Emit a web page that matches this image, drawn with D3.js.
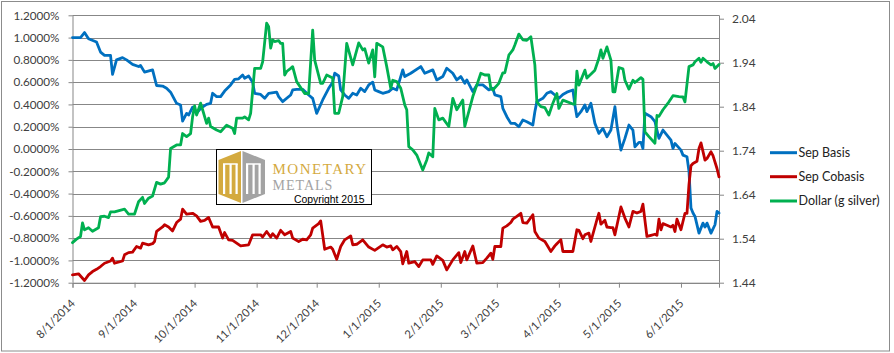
<!DOCTYPE html>
<html><head><meta charset="utf-8">
<script src="https://cdn.jsdelivr.net/npm/d3@7"></script>
<style>body{margin:0;background:#fff}svg{display:block}</style>
</head><body><svg id="c" width="894" height="353"></svg>
<script>
const xTickLabels = ["8/1/2014","9/1/2014","10/1/2014","11/1/2014","12/1/2014","1/1/2015","2/1/2015","3/1/2015","4/1/2015","5/1/2015","6/1/2015"];
const leftTicks = [-1.2,-1.0,-0.8,-0.6,-0.4,-0.2,0,0.2,0.4,0.6,0.8,1.0,1.2];
const leftTickLabels = ["-1.2000%","-1.0000%","-0.8000%","-0.6000%","-0.4000%","-0.2000%","0.0000%","0.2000%","0.4000%","0.6000%","0.8000%","1.0000%","1.2000%"];
const rightTicks = [1.44,1.54,1.64,1.74,1.84,1.94,2.04];
const seriesNames = ["Sep Basis","Sep Cobasis","Dollar (g silver)"];

const sepBasis = [["2014-08-01",1.00],["2014-08-05",1.00],["2014-08-07",1.045],["2014-08-09",0.99],["2014-08-13",0.96],["2014-08-15",0.87],["2014-08-17",0.84],["2014-08-20",0.84],["2014-08-21",0.67],["2014-08-23",0.80],["2014-08-26",0.82],["2014-08-28",0.80],["2014-08-31",0.76],["2014-09-03",0.74],["2014-09-04",0.75],["2014-09-06",0.69],["2014-09-10",0.71],["2014-09-12",0.57],["2014-09-15",0.565],["2014-09-17",0.545],["2014-09-19",0.51],["2014-09-22",0.41],["2014-09-24",0.395],["2014-09-25",0.25],["2014-09-27",0.32],["2014-09-28",0.305],["2014-09-30",0.375],["2014-10-02",0.32],["2014-10-04",0.365],["2014-10-07",0.40],["2014-10-09",0.41],["2014-10-10",0.50],["2014-10-12",0.47],["2014-10-14",0.47],["2014-10-16",0.52],["2014-10-19",0.575],["2014-10-21",0.625],["2014-10-23",0.63],["2014-10-25",0.665],["2014-10-26",0.635],["2014-10-28",0.655],["2014-10-30",0.60],["2014-10-31",0.50],["2014-11-03",0.49],["2014-11-05",0.455],["2014-11-07",0.50],["2014-11-11",0.51],["2014-11-12",0.47],["2014-11-14",0.425],["2014-11-18",0.485],["2014-11-19",0.53],["2014-11-21",0.535],["2014-11-24",0.535],["2014-11-27",0.485],["2014-11-29",0.455],["2014-12-01",0.32],["2014-12-04",0.44],["2014-12-07",0.545],["2014-12-09",0.60],["2014-12-10",0.68],["2014-12-12",0.655],["2014-12-13",0.53],["2014-12-15",0.485],["2014-12-17",0.455],["2014-12-19",0.50],["2014-12-21",0.485],["2014-12-23",0.545],["2014-12-25",0.515],["2014-12-27",0.575],["2014-12-29",0.60],["2014-12-30",0.53],["2015-01-01",0.515],["2015-01-03",0.50],["2015-01-06",0.515],["2015-01-08",0.545],["2015-01-10",0.53],["2015-01-13",0.71],["2015-01-14",0.65],["2015-01-17",0.68],["2015-01-22",0.74],["2015-01-24",0.68],["2015-01-28",0.71],["2015-01-30",0.62],["2015-02-02",0.65],["2015-02-04",0.725],["2015-02-07",0.68],["2015-02-09",0.62],["2015-02-11",0.65],["2015-02-13",0.59],["2015-02-14",0.62],["2015-02-17",0.515],["2015-02-19",0.575],["2015-02-22",0.575],["2015-02-25",0.53],["2015-02-27",0.545],["2015-02-28",0.485],["2015-03-03",0.47],["2015-03-04",0.365],["2015-03-06",0.29],["2015-03-08",0.23],["2015-03-10",0.23],["2015-03-12",0.20],["2015-03-14",0.26],["2015-03-16",0.245],["2015-03-19",0.215],["2015-03-20",0.335],["2015-03-21",0.425],["2015-03-24",0.455],["2015-03-26",0.50],["2015-03-28",0.515],["2015-03-30",0.485],["2015-04-01",0.455],["2015-04-03",0.49],["2015-04-05",0.51],["2015-04-08",0.53],["2015-04-09",0.395],["2015-04-10",0.29],["2015-04-12",0.335],["2015-04-14",0.395],["2015-04-15",0.335],["2015-04-17",0.41],["2015-04-19",0.23],["2015-04-21",0.14],["2015-04-23",0.185],["2015-04-25",0.11],["2015-04-27",0.17],["2015-04-29",0.38],["2015-04-30",0.215],["2015-05-02",-0.01],["2015-05-04",0.095],["2015-05-06",0.215],["2015-05-08",0.17],["2015-05-09",0.02],["2015-05-11",0.06],["2015-05-12",0.06],["2015-05-13",0.005],["2015-05-14",0.32],["2015-05-17",0.29],["2015-05-19",0.245],["2015-05-21",0.095],["2015-05-23",0.17],["2015-05-25",0.125],["2015-05-27",0.08],["2015-05-28",0.005],["2015-05-29",0.05],["2015-06-01",-0.01],["2015-06-02",-0.055],["2015-06-04",-0.07],["2015-06-05",-0.20],["2015-06-06",-0.53],["2015-06-07",-0.575],["2015-06-08",-0.605],["2015-06-10",-0.755],["2015-06-12",-0.665],["2015-06-13",-0.70],["2015-06-14",-0.665],["2015-06-16",-0.755],["2015-06-18",-0.68],["2015-06-19",-0.56],["2015-06-20",-0.575]];

const sepCobasis = [["2014-08-01",-1.13],["2014-08-04",-1.12],["2014-08-07",-1.18],["2014-08-09",-1.13],["2014-08-11",-1.10],["2014-08-13",-1.08],["2014-08-15",-1.055],["2014-08-17",-1.025],["2014-08-20",-1.005],["2014-08-21",-0.98],["2014-08-22",-1.025],["2014-08-26",-1.005],["2014-08-27",-0.95],["2014-08-29",-0.93],["2014-08-31",-0.925],["2014-09-02",-0.875],["2014-09-04",-0.89],["2014-09-05",-0.845],["2014-09-08",-0.86],["2014-09-10",-0.85],["2014-09-11",-0.83],["2014-09-12",-0.74],["2014-09-15",-0.70],["2014-09-16",-0.68],["2014-09-18",-0.70],["2014-09-20",-0.735],["2014-09-22",-0.66],["2014-09-24",-0.63],["2014-09-25",-0.54],["2014-09-27",-0.585],["2014-09-30",-0.577],["2014-10-02",-0.60],["2014-10-04",-0.65],["2014-10-06",-0.64],["2014-10-08",-0.615],["2014-10-10",-0.70],["2014-10-13",-0.70],["2014-10-15",-0.80],["2014-10-16",-0.75],["2014-10-18",-0.815],["2014-10-20",-0.82],["2014-10-24",-0.87],["2014-10-28",-0.86],["2014-10-30",-0.77],["2014-11-03",-0.77],["2014-11-04",-0.79],["2014-11-06",-0.74],["2014-11-08",-0.79],["2014-11-09",-0.76],["2014-11-11",-0.80],["2014-11-13",-0.73],["2014-11-15",-0.77],["2014-11-18",-0.74],["2014-11-19",-0.80],["2014-11-22",-0.83],["2014-11-24",-0.81],["2014-11-26",-0.815],["2014-11-28",-0.77],["2014-11-29",-0.71],["2014-12-02",-0.67],["2014-12-03",-0.645],["2014-12-05",-0.90],["2014-12-08",-0.88],["2014-12-09",-0.90],["2014-12-11",-0.99],["2014-12-13",-0.875],["2014-12-15",-0.815],["2014-12-18",-0.78],["2014-12-19",-0.86],["2014-12-21",-0.855],["2014-12-24",-0.815],["2014-12-27",-0.88],["2014-12-30",-0.91],["2015-01-03",-0.86],["2015-01-05",-0.88],["2015-01-07",-0.87],["2015-01-08",-0.905],["2015-01-10",-0.875],["2015-01-12",-0.92],["2015-01-13",-1.03],["2015-01-15",-0.92],["2015-01-16",-1.025],["2015-01-19",-1.01],["2015-01-21",-1.055],["2015-01-23",-0.995],["2015-01-25",-0.995],["2015-01-27",-0.995],["2015-01-28",-1.035],["2015-01-30",-0.96],["2015-02-02",-1.00],["2015-02-04",-1.085],["2015-02-07",-0.995],["2015-02-10",-0.93],["2015-02-11",-1.02],["2015-02-13",-0.92],["2015-02-14",-0.995],["2015-02-17",-0.87],["2015-02-19",-1.025],["2015-02-22",-1.02],["2015-02-24",-0.98],["2015-02-26",-0.935],["2015-02-27",-0.99],["2015-02-28",-0.875],["2015-03-03",-0.875],["2015-03-04",-0.71],["2015-03-06",-0.69],["2015-03-08",-0.66],["2015-03-09",-0.63],["2015-03-11",-0.605],["2015-03-13",-0.577],["2015-03-14",-0.66],["2015-03-16",-0.665],["2015-03-19",-0.59],["2015-03-20",-0.74],["2015-03-22",-0.80],["2015-03-25",-0.83],["2015-03-26",-0.86],["2015-03-28",-0.92],["2015-03-30",-0.87],["2015-03-31",-0.85],["2015-04-02",-0.815],["2015-04-03",-0.92],["2015-04-08",-0.92],["2015-04-10",-0.725],["2015-04-11",-0.73],["2015-04-13",-0.805],["2015-04-14",-0.77],["2015-04-16",-0.755],["2015-04-17",-0.83],["2015-04-20",-0.635],["2015-04-21",-0.577],["2015-04-22",-0.675],["2015-04-24",-0.64],["2015-04-25",-0.70],["2015-04-27",-0.705],["2015-04-28",-0.705],["2015-04-29",-0.77],["2015-05-02",-0.52],["2015-05-04",-0.62],["2015-05-06",-0.70],["2015-05-08",-0.56],["2015-05-10",-0.575],["2015-05-12",-0.56],["2015-05-13",-0.495],["2015-05-15",-0.785],["2015-05-17",-0.775],["2015-05-19",-0.765],["2015-05-20",-0.775],["2015-05-21",-0.63],["2015-05-22",-0.725],["2015-05-23",-0.67],["2015-05-25",-0.685],["2015-05-27",-0.70],["2015-05-28",-0.685],["2015-05-29",-0.74],["2015-05-30",-0.63],["2015-06-01",-0.725],["2015-06-03",-0.577],["2015-06-04",-0.577],["2015-06-05",-0.32],["2015-06-06",-0.15],["2015-06-07",-0.13],["2015-06-09",-0.11],["2015-06-10",0.005],["2015-06-11",0.055],["2015-06-13",-0.10],["2015-06-14",-0.085],["2015-06-16",-0.025],["2015-06-17",-0.06],["2015-06-19",-0.175],["2015-06-20",-0.25]];

const dollarSilver = [["2014-08-01",1.531],["2014-08-03",1.539],["2014-08-05",1.545],["2014-08-06",1.576],["2014-08-07",1.56],["2014-08-09",1.565],["2014-08-11",1.557],["2014-08-14",1.565],["2014-08-15",1.59],["2014-08-17",1.591],["2014-08-19",1.588],["2014-08-20",1.601],["2014-08-22",1.601],["2014-08-27",1.607],["2014-08-29",1.596],["2014-09-01",1.596],["2014-09-03",1.624],["2014-09-05",1.634],["2014-09-06",1.62],["2014-09-08",1.632],["2014-09-10",1.637],["2014-09-12",1.668],["2014-09-14",1.664],["2014-09-16",1.667],["2014-09-18",1.68],["2014-09-19",1.745],["2014-09-22",1.753],["2014-09-24",1.753],["2014-09-25",1.779],["2014-09-27",1.772],["2014-09-29",1.779],["2014-09-30",1.817],["2014-10-01",1.842],["2014-10-02",1.821],["2014-10-04",1.848],["2014-10-05",1.833],["2014-10-07",1.802],["2014-10-08",1.814],["2014-10-09",1.795],["2014-10-12",1.787],["2014-10-14",1.783],["2014-10-17",1.798],["2014-10-20",1.791],["2014-10-21",1.779],["2014-10-22",1.814],["2014-10-25",1.814],["2014-10-26",1.817],["2014-10-28",1.81],["2014-10-29",1.825],["2014-10-31",1.927],["2014-11-03",1.927],["2014-11-04",1.942],["2014-11-06",2.03],["2014-11-07",2.022],["2014-11-08",1.973],["2014-11-09",1.992],["2014-11-10",1.988],["2014-11-12",1.99],["2014-11-13",1.984],["2014-11-14",1.984],["2014-11-15",1.912],["2014-11-16",1.92],["2014-11-18",1.927],["2014-11-19",1.931],["2014-11-21",1.897],["2014-11-25",1.87],["2014-11-27",1.87],["2014-11-29",2.014],["2014-11-30",1.946],["2014-12-03",1.893],["2014-12-04",1.893],["2014-12-06",1.912],["2014-12-09",1.905],["2014-12-10",1.825],["2014-12-12",1.825],["2014-12-14",1.863],["2014-12-16",1.984],["2014-12-19",1.935],["2014-12-22",1.985],["2014-12-24",1.969],["2014-12-25",1.972],["2014-12-27",1.939],["2014-12-29",1.969],["2014-12-30",1.908],["2014-12-31",1.984],["2015-01-03",1.976],["2015-01-05",1.931],["2015-01-07",1.882],["2015-01-08",1.9],["2015-01-10",1.897],["2015-01-12",1.882],["2015-01-14",1.844],["2015-01-15",1.833],["2015-01-16",1.749],["2015-01-18",1.742],["2015-01-20",1.73],["2015-01-23",1.696],["2015-01-25",1.719],["2015-01-26",1.735],["2015-01-28",1.726],["2015-01-29",1.836],["2015-01-31",1.81],["2015-02-02",1.814],["2015-02-05",1.795],["2015-02-07",1.859],["2015-02-09",1.833],["2015-02-12",1.855],["2015-02-13",1.795],["2015-02-17",1.863],["2015-02-19",1.889],["2015-02-21",1.916],["2015-02-23",1.912],["2015-02-25",1.912],["2015-02-26",1.882],["2015-02-27",1.878],["2015-03-02",1.893],["2015-03-04",1.917],["2015-03-05",1.917],["2015-03-07",1.957],["2015-03-09",1.969],["2015-03-10",1.98],["2015-03-12",2.005],["2015-03-14",1.992],["2015-03-16",1.991],["2015-03-18",1.999],["2015-03-20",1.935],["2015-03-21",1.851],["2015-03-23",1.84],["2015-03-25",1.838],["2015-03-27",1.821],["2015-03-29",1.848],["2015-03-31",1.87],["2015-04-01",1.836],["2015-04-03",1.855],["2015-04-08",1.846],["2015-04-09",1.846],["2015-04-10",1.921],["2015-04-11",1.889],["2015-04-14",1.923],["2015-04-15",1.905],["2015-04-19",1.923],["2015-04-21",1.95],["2015-04-22",1.969],["2015-04-23",1.95],["2015-04-25",1.976],["2015-04-27",1.946],["2015-04-28",1.874],["2015-04-29",1.874],["2015-05-01",1.929],["2015-05-03",1.926],["2015-05-04",1.9],["2015-05-06",1.88],["2015-05-08",1.9],["2015-05-09",1.895],["2015-05-12",1.906],["2015-05-13",1.902],["2015-05-14",1.783],["2015-05-16",1.772],["2015-05-19",1.757],["2015-05-20",1.82],["2015-05-21",1.818],["2015-05-23",1.833],["2015-05-26",1.851],["2015-05-28",1.865],["2015-05-31",1.863],["2015-06-02",1.862],["2015-06-03",1.851],["2015-06-05",1.931],["2015-06-07",1.935],["2015-06-08",1.942],["2015-06-10",1.95],["2015-06-11",1.941],["2015-06-12",1.95],["2015-06-14",1.942],["2015-06-16",1.935],["2015-06-17",1.938],["2015-06-18",1.927],["2015-06-20",1.936]];

const colors = ["#0070C0","#C00000","#00B050"];
const gridColor = "#878787";
const textColor = "#404040";
const labelFont = "Lato, 'Liberation Sans', Arial, sans-serif";

const svg = d3.select("#c");
svg.append("rect").attr("x",0).attr("y",0).attr("width",894).attr("height",353).attr("fill","#fff");
svg.append("rect").attr("x",1.5).attr("y",1.5).attr("width",888).attr("height",349.5)
  .attr("fill","none").attr("stroke","#8c8c8c").attr("stroke-width",1);

const P = {l:72.5, r:719, t:15.3, b:282.7};
const parse = d3.utcParse("%Y-%m-%d");
const parseTick = d3.utcParse("%m/%d/%Y");
const x = d3.scaleUtc().domain([parse("2014-08-01"), parse("2015-06-20")]).range([P.l, P.r]);
const yL = d3.scaleLinear().domain([-1.2, 1.2]).range([P.b, P.t]);
const yR = d3.scaleLinear().domain([1.44, 2.0477]).range([P.b, P.t]);

// gridlines
svg.append("g").selectAll("line").data(leftTicks).join("line")
  .attr("x1",P.l).attr("x2",P.r).attr("y1",d=>Math.round(yL(d))+0.5).attr("y2",d=>Math.round(yL(d))+0.5)
  .attr("stroke",gridColor).attr("stroke-width",1);

// left axis
const gL = svg.append("g").attr("transform",`translate(${P.l},0)`)
  .call(d3.axisLeft(yL).tickValues(leftTicks).tickSize(4).tickPadding(9)
    .tickFormat((d,i)=>leftTickLabels[i]));
// right axis
const gR = svg.append("g").attr("transform",`translate(${P.r},0)`)
  .call(d3.axisRight(yR).tickValues(rightTicks).tickSize(5).tickPadding(8).tickFormat(d3.format(".2f")));
// bottom axis
const xTickDates = xTickLabels.map(s=>parseTick(s));
const gB = svg.append("g").attr("transform",`translate(0,${P.b})`)
  .call(d3.axisBottom(x).tickValues(xTickDates).tickSize(5).tickFormat(""));

[gL,gR,gB].forEach(g=>{
  g.select(".domain").attr("stroke",gridColor);
  g.selectAll(".tick line").attr("stroke",gridColor);
  g.selectAll(".tick text").attr("fill",textColor).style("font-family",labelFont);
});
gL.selectAll(".tick text").style("font-size","11.7px");
gR.selectAll(".tick text").style("font-size","12px");
gL.select(".domain").attr("d",`M0.5,${P.t}V${P.b}`);
gR.select(".domain").attr("d",`M0.5,${P.t}V${P.b}`);

// rotated x labels
svg.append("g").selectAll("text").data(xTickDates).join("text")
  .attr("transform",(d)=>`translate(${x(d)+3.5},${P.b+21.5}) rotate(-45)`)
  .attr("text-anchor","end").attr("fill",textColor)
  .style("font-family",labelFont).style("font-size","11.3px")
  .text((d,i)=>xTickLabels[i]);

// lines
const lineL = d3.line().x(d=>x(parse(d[0]))).y(d=>yL(d[1]));
const lineR = d3.line().x(d=>x(parse(d[0]))).y(d=>yR(d[1]));
const lineG = svg.append("g").attr("fill","none").attr("stroke-width",2.8)
  .attr("stroke-linejoin","round").attr("stroke-linecap","round");
lineG.append("path").attr("d",lineL(sepBasis)).attr("stroke",colors[0]);
lineG.append("path").attr("d",lineL(sepCobasis)).attr("stroke",colors[1]);
lineG.append("path").attr("d",lineR(dollarSilver)).attr("stroke",colors[2]);

// legend
const legY = [152.7, 176.7, 201];
const leg = svg.append("g");
seriesNames.forEach((n,i)=>{
  leg.append("line").attr("x1",770).attr("x2",797).attr("y1",legY[i]).attr("y2",legY[i])
    .attr("stroke",colors[i]).attr("stroke-width",3);
  leg.append("text").attr("x",798.5).attr("y",legY[i]).attr("dy","0.35em")
    .attr("fill","#222").style("font-family",labelFont).style("font-size","12.5px").text(n);
});

// logo box
const logo = svg.append("g");
logo.append("rect").attr("x",216.5).attr("y",149.5).attr("width",155).attr("height",55)
  .attr("fill","#fff").attr("stroke","#000").attr("stroke-width",1);
const gold = "#D4AA3F", grey = "#A3A3A3";
logo.append("path").attr("d","M241,151 L218.5,160 L218.5,194 L241,203 Z").attr("fill",gold);
logo.append("path").attr("d","M242.5,151 L265,160 L265,194 L242.5,203 Z").attr("fill",grey);
[[223,164],[229.5,164],[235.5,164],[246,164],[252.5,164],[258.5,164]].forEach(p=>{
  logo.append("rect").attr("x",p[0]).attr("y",p[1]).attr("width",2.2).attr("height",30).attr("fill","#fff");
});
logo.append("path").attr("d","M223,164 H237.7 M246,164 H260.7").attr("stroke","#fff").attr("stroke-width",1.5);
logo.append("text").attr("x",272.5).attr("y",174).attr("fill",gold)
  .style("font-family","'Liberation Serif','DejaVu Serif',serif").style("font-size","15px")
  .style("letter-spacing","1.5px").text("MONETARY");
logo.append("text").attr("x",272.5).attr("y",190).attr("fill",grey)
  .style("font-family","'Liberation Serif','DejaVu Serif',serif").style("font-size","14px")
  .style("letter-spacing","1px").text("METALS");
logo.append("text").attr("x",294).attr("y",202.6).attr("fill","#000")
  .style("font-family","'Liberation Sans',Arial,sans-serif").style("font-size","10.4px").text("Copyright 2015");
</script></body></html>
